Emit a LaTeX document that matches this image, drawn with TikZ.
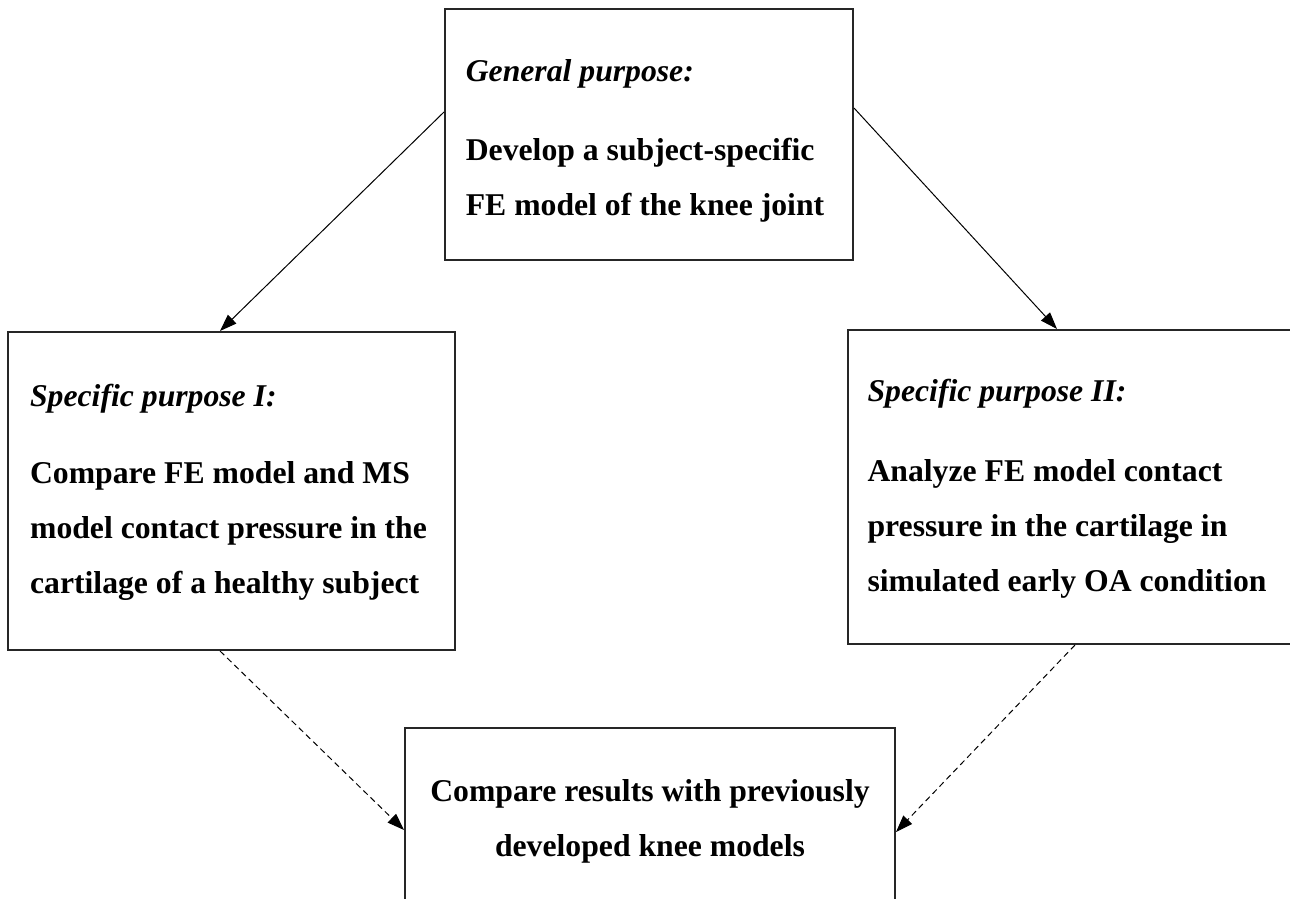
\documentclass[tikz,border=0pt]{standalone}
\usepackage{fontspec}
\setmainfont{Liberation Serif}
\usetikzlibrary{arrows.meta}

\tikzset{
	purposebox/.style={draw=black!85, line width=1pt, inner sep=0pt},
	purposetext/.style={align=left, inner sep=0pt, font=\fontsize{15.85pt}{27.5pt}\selectfont\bfseries},
	solidarrow/.style={line width=0.5pt, -{Triangle[length=8.5pt,width=6pt]}},
	dasharrow/.style={solidarrow, dash pattern=on 3pt off 2pt}
}

\begin{document}
\begin{tikzpicture}[x=0.5pt, y=-0.5pt]
		
		\useasboundingbox (0,0) rectangle (1290,899);
		
		% frames
		\node[purposebox, minimum width=204pt, minimum height=125.5pt] (gp) at (649,134.5) {};
		\node[purposebox, minimum width=223.5pt, minimum height=159pt] (sp1) at (231.5,491) {};
		\node[purposebox, minimum width=224pt, minimum height=157pt] (sp2) at (1072,487) {};
		\node[purposebox, minimum width=245pt, minimum height=91pt] (cmp) at (650,819) {};
		
		% texts
		\node[purposetext] (gptext) at ([xshift=-2pt, yshift=-3pt]gp.center)
			{\textit{General purpose:}\\[12pt] Develop a subject-specific\\ FE model of the knee joint};
		\node[purposetext] (sp1text) at ([xshift=-1.5pt, yshift=-0.5pt]sp1.center)
			{\textit{Specific purpose I:}\\[11pt] Compare FE model and MS\\ model contact pressure in the\\ cartilage of a healthy subject};
		\node[purposetext] (sp2text) at ([xshift=-2.5pt, yshift=-0.75pt]sp2.center)
			{\textit{Specific purpose II:}\\[12.5pt] Analyze FE model contact\\ pressure in the cartilage in\\ simulated early OA condition};
		\node[purposetext, align=center] (cmptext) at ([yshift=-1pt]cmp.center)
			{Compare results with previously\\ developed knee models};
		
		\draw[solidarrow] ([yshift=11.25pt]gp.west) -- ([xshift=-5.75pt]sp1.north);
		\draw[solidarrow] ([yshift=13.25pt]gp.east) -- ([xshift=-7.5pt]sp2.north);
		\draw[dasharrow] ([xshift=-5.75pt]sp1.south) -- ([yshift=-5.5pt]cmp.west);
		\draw[dasharrow] ([xshift=1.5pt]sp2.south) -- ([yshift=-6.5pt]cmp.east);
		
	\end{tikzpicture}
\end{document}
